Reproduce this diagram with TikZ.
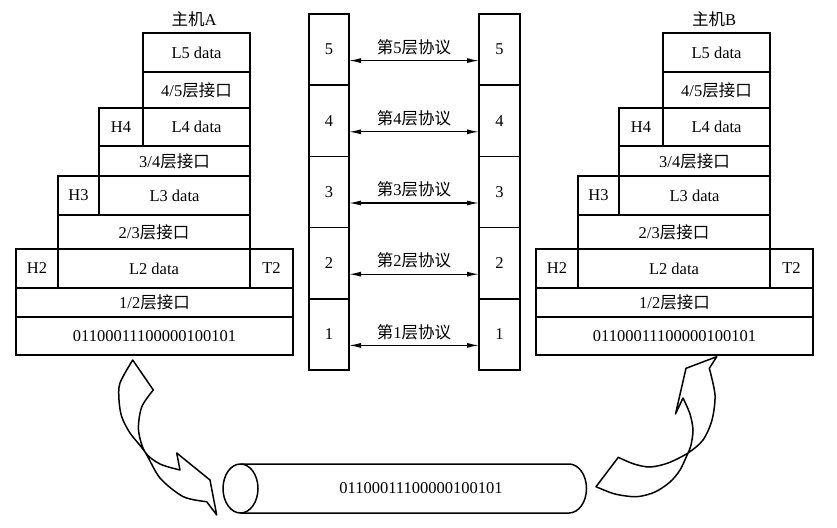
\documentclass[tikz,border=0pt]{standalone}
\usepackage{fontspec}
\setmainfont{Liberation Serif}
\newfontfamily\cjk{Noto Sans CJK SC}
\newcommand\zh[1]{{\cjk #1}}
\usetikzlibrary{arrows.meta}

\begin{document}
\begin{tikzpicture}[x=1pt,y=-1pt,
    font=\fontsize{16.5}{19}\selectfont,
    cell/.style={draw,line width=1.5pt,anchor=north west,inner sep=0pt,outer sep=0pt},
    colcell/.style={cell,minimum width=40,minimum height=71.2},
    proto/.style={{Latex[length=12pt,width=5pt]}-{Latex[length=12pt,width=5pt]},line width=1.2pt},
    band/.style={line width=1.5pt,line join=round}]
  \useasboundingbox (0,0) rectangle (837,527);

  %—————— Pilas de los hosts A y B ——————————————————————————————————————
  \foreach \h/\dx in {A/0,B/520}{
    \begin{scope}[xshift=\dx pt,name prefix=\h-]
      % título
      \node (title) at (194,19) {\zh{主机}\h};
      % capa 5 y 4
      \node[cell,minimum width=107,minimum height=39] (L5)   at (143,33)  {L5 data};
      \node[cell,minimum width=107,minimum height=36] (if45) at (143,72)  {4/5\zh{层接口}};
      \node[cell,minimum width=44, minimum height=38] (H4)   at (99,108)  {H4};
      \node[cell,minimum width=107,minimum height=38] (L4)   at (143,108) {L4 data};
      % capa 3
      \node[cell,minimum width=151,minimum height=30] (if34) at (99,146)  {3/4\zh{层接口}};
      \node[cell,minimum width=41, minimum height=39] (H3)   at (58,176)  {H3};
      \node[cell,minimum width=151,minimum height=39] (L3)   at (99,176)  {L3 data};
      % capa 2
      \node[cell,minimum width=192,minimum height=34] (if23) at (58,215)  {2/3\zh{层接口}};
      \node[cell,minimum width=42, minimum height=39] (H2)   at (16,249)  {H2};
      \node[cell,minimum width=192,minimum height=39] (L2)   at (58,249)  {L2 data};
      \node[cell,minimum width=43, minimum height=39] (T2)   at (250,249) {T2};
      % capa 1
      \node[cell,minimum width=277,minimum height=29] (if12) at (16,288)  {1/2\zh{层接口}};
      \node[cell,minimum width=277,minimum height=38] (bits) at (16,317)  {01100011100000100101};
    \end{scope}
  }

  %—————— Protocolos entre capas pares ——————————————————————————————————
  \foreach \i in {1,...,5}{
    \node[colcell] (pa\i) at (309,{14+(5-\i)*71.2}) {\i};
    \node[colcell,minimum width=41] (pb\i) at (479,{14+(5-\i)*71.2}) {\i};
    \draw[proto] ([yshift=-11pt]pa\i.east) -- node[above=2pt] {\zh{第}\i\zh{层协议}}
      ([yshift=-11pt]pb\i.west);
  }

  %—————— Medio físico ——————————————————————————————————————————————————
  \draw[band] (240.5,464) -- (569,464)
    arc[start angle=-90,end angle=90,x radius=17.5,y radius=24.5] -- (240.5,513);
  \draw[band] (240.5,488.5) ellipse[x radius=17.5,y radius=24.5];
  \node (wire) at (421,488.5) {01100011100000100101};

  % flecha de A hacia el cable
  \draw[band] plot[smooth] coordinates {
      (153.3,390) (141.7,407) (138.5,430) (145,452) (160,464) (180,470)
    } -- (176.7,453) -- (210,480) -- (216.7,515) -- (206.7,501.7)
    -- plot[smooth] coordinates {
      (206.7,501.7) (183.3,496.7) (160,478) (145,452) (130,433) (121.7,416.7)
      (119,400) (120,383) (132.7,360)
    } -- cycle;

  % flecha del cable hacia B
  \draw[band] plot[smooth] coordinates {
      (618.3,457.3) (634,464) (650,467) (668,463) (688,453) (703,440) (712,420)
      (715,395) (709.3,368.3)
    } -- (716.7,356.7) -- (686,368.3) -- (675.5,414) -- (683,398)
    -- plot[smooth] coordinates {
      (683,398) (690,414) (693,430) (691,445) (688,453) (680,470) (670,482)
      (655,492) (636.7,496.7) (615,494) (596,486.7)
    } -- cycle;

\end{tikzpicture}
\end{document}
